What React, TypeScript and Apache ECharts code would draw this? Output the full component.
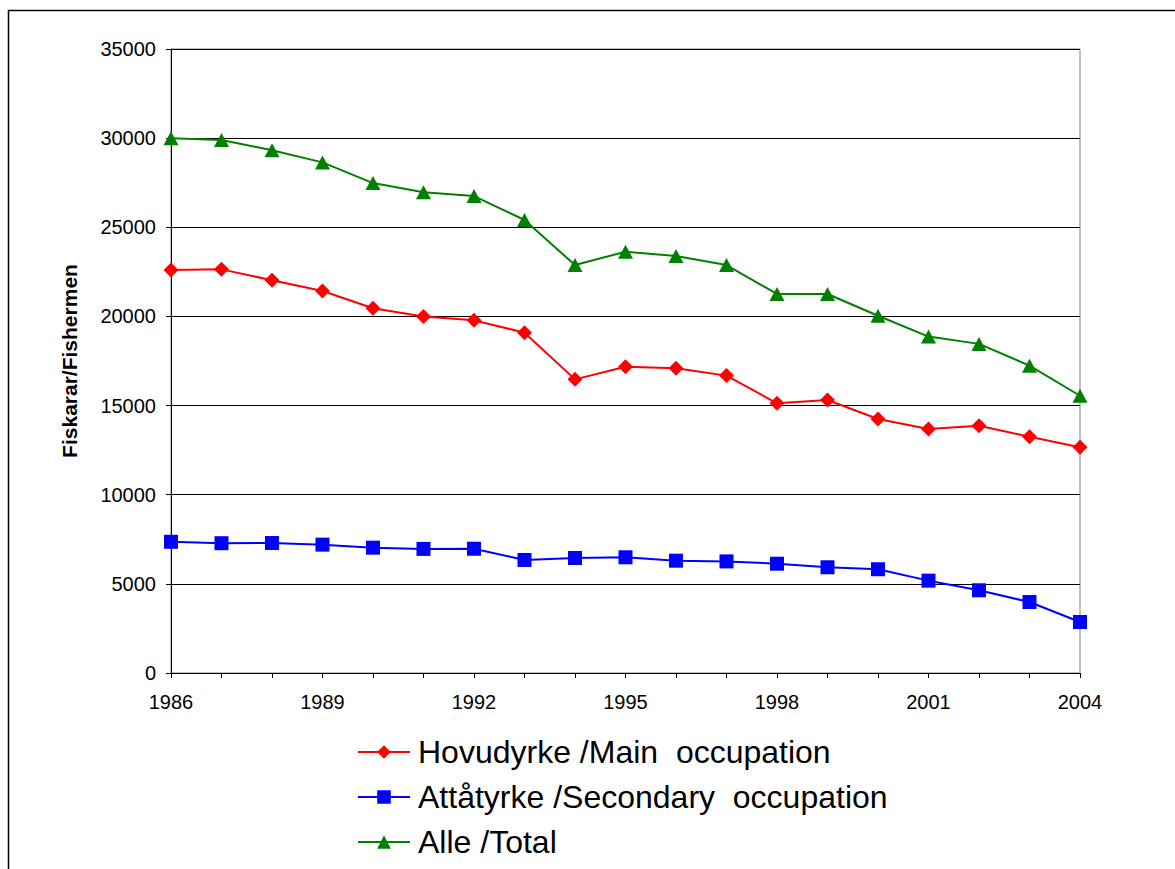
import React, { useEffect, useRef } from "react";
import * as echarts from "echarts";

const years = ["1986","1987","1988","1989","1990","1991","1992","1993","1994","1995","1996","1997","1998","1999","2000","2001","2002","2003","2004"];
const mainOcc = [22600,22640,22030,21430,20460,19990,19780,19090,16470,17180,17090,16680,15130,15310,14250,13690,13870,13250,12660];
const secondaryOcc = [7360,7280,7290,7200,7030,6960,6970,6340,6450,6490,6300,6260,6130,5930,5820,5180,4640,3980,2860];
const total = [30000,29900,29320,28640,27480,26960,26750,25410,22880,23630,23390,22880,21260,21260,20040,18870,18460,17240,15550];

const yTicks = { min: 0, max: 35000, interval: 5000 };
const FONT = "'Liberation Sans', Arial, sans-serif";

export default function App() {
  const ref = useRef<HTMLDivElement>(null);
  useEffect(() => {
    if (!ref.current) return;
    const chart = echarts.init(ref.current, null, { renderer: "svg" });
    chart.setOption({
      animation: false,
      backgroundColor: "#ffffff",
      textStyle: { fontFamily: FONT },
      graphic: [
        {
          type: "rect",
          left: 6,
          top: 8,
          shape: { width: 1200, height: 900 },
          style: { fill: "none", stroke: "#000", lineWidth: 1.5 },
          silent: true,
        },
      ],
      grid: {
        left: 171,
        top: 49,
        right: 95,
        bottom: 196,
        show: true,
        borderColor: "#808080",
        borderWidth: 1,
        containLabel: false,
      },
      legend: {
        orient: "vertical",
        left: 357,
        top: 736,
        padding: 0,
        itemWidth: 52,
        itemHeight: 17,
        itemGap: 13,
        textStyle: {
          fontSize: 32,
          color: "#000",
          fontFamily: FONT,
          lineHeight: 32,
          padding: [0, 0, 0, 3],
        },
        data: ["Hovudyrke /Main  occupation", "Attåtyrke /Secondary  occupation", "Alle /Total"],
      },
      xAxis: {
        type: "category",
        data: years,
        boundaryGap: false,
        axisLine: { lineStyle: { color: "#000", width: 1 } },
        axisTick: { show: true, inside: false, length: 5, interval: 0, lineStyle: { color: "#000" } },
        axisLabel: { interval: 2, fontSize: 20, color: "#000", margin: 19, fontFamily: FONT },
        splitLine: { show: false },
      },
      yAxis: {
        type: "value",
        min: yTicks.min,
        max: yTicks.max,
        interval: yTicks.interval,
        name: "Fiskarar/Fishermen",
        nameLocation: "middle",
        nameGap: 91,
        nameTextStyle: { fontSize: 21, fontWeight: "bold", color: "#000", fontFamily: FONT },
        axisLine: { show: true, lineStyle: { color: "#000", width: 1 } },
        axisTick: { show: true, inside: false, length: 5, lineStyle: { color: "#000" } },
        axisLabel: {
          fontSize: 20,
          color: "#000",
          margin: 15,
          fontFamily: FONT,
          formatter: (v: number) => String(v),
        },
        splitLine: { show: true, lineStyle: { color: "#000", width: 1 } },
      },
      series: [
        {
          name: "Hovudyrke /Main  occupation",
          type: "line",
          data: mainOcc,
          symbol: "diamond",
          symbolSize: 15,
          showAllSymbol: true,
          lineStyle: { color: "#ff0000", width: 2 },
          itemStyle: { color: "#ff0000" },
          z: 3,
        },
        {
          name: "Attåtyrke /Secondary  occupation",
          type: "line",
          data: secondaryOcc,
          symbol: "rect",
          symbolSize: 14,
          showAllSymbol: true,
          lineStyle: { color: "#0000ff", width: 2 },
          itemStyle: { color: "#0000ff" },
          z: 3,
        },
        {
          name: "Alle /Total",
          type: "line",
          data: total,
          symbol: "triangle",
          symbolSize: [15, 14],
          showAllSymbol: true,
          lineStyle: { color: "#008000", width: 2 },
          itemStyle: { color: "#008000" },
          z: 3,
        },
      ],
    });
    return () => chart.dispose();
  }, []);
  return (
    <div
      ref={ref}
      style={{ position: "absolute", left: 0, top: 0, width: 1175, height: 869 }}
    />
  );
}
